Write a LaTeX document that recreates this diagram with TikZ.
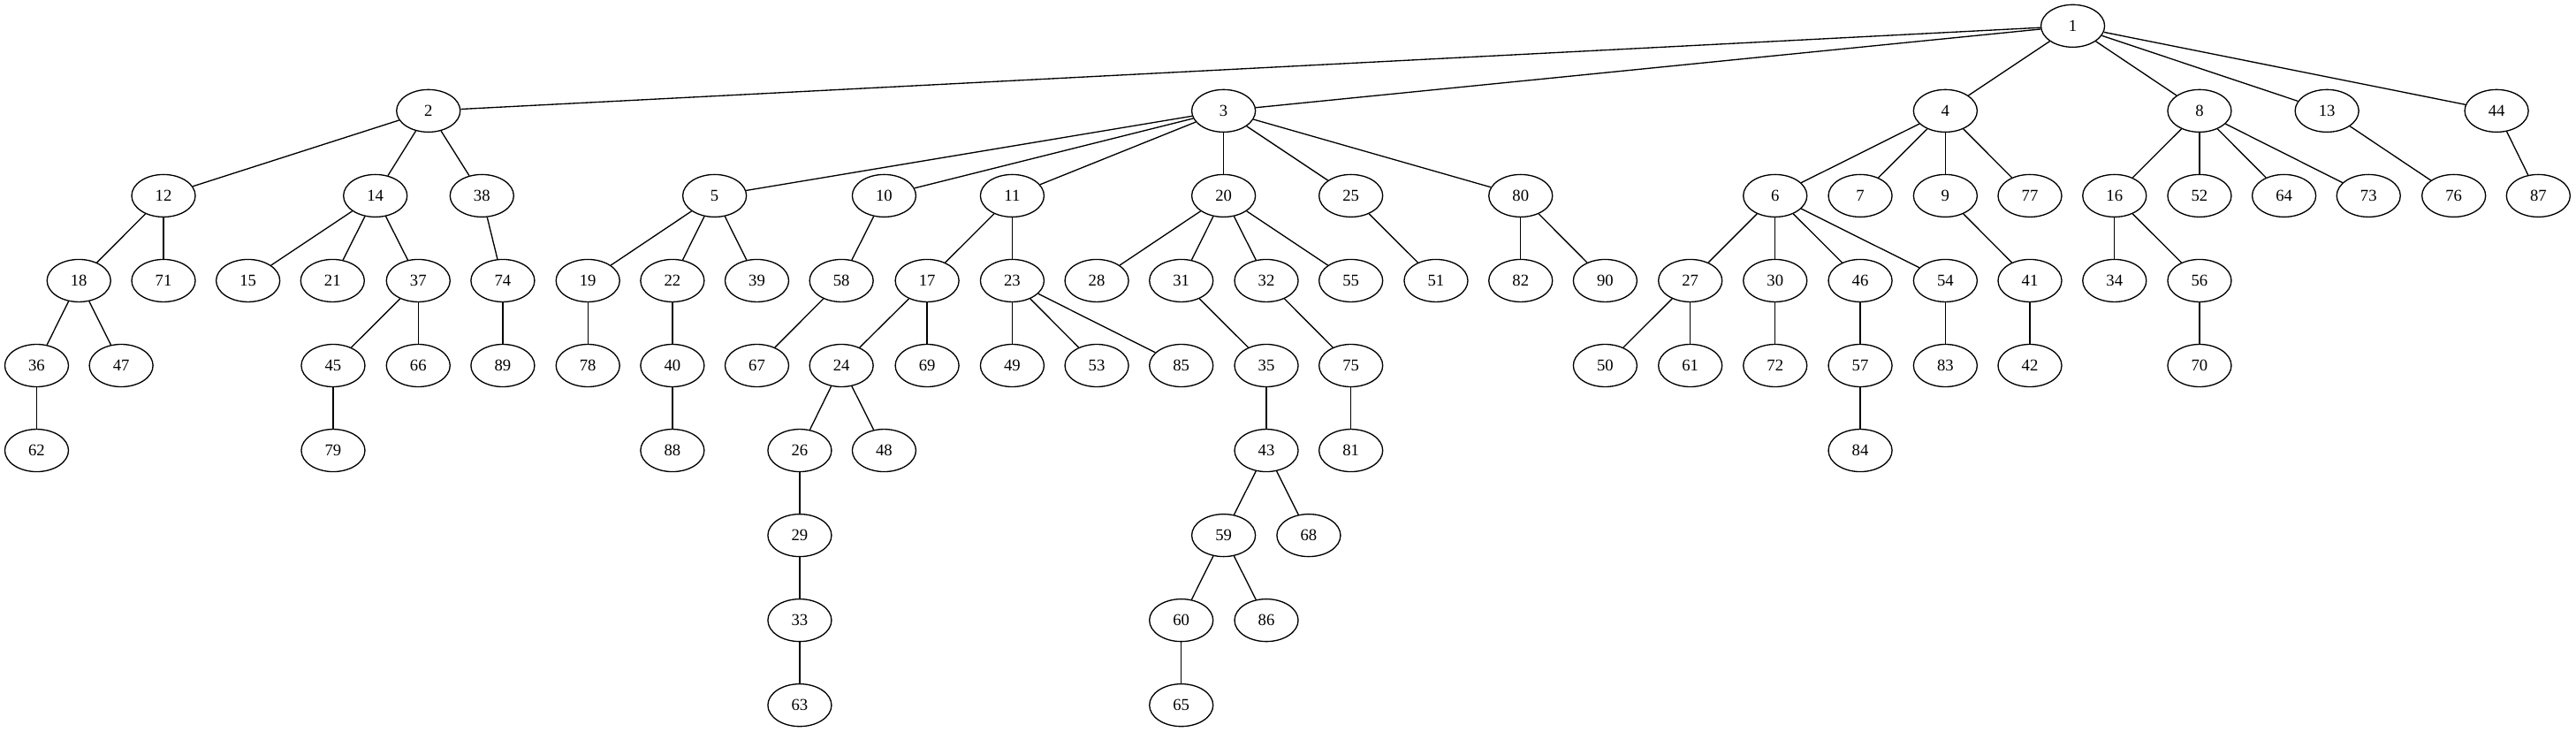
\documentclass[tikz,border=0pt]{standalone}
\usepackage{fontspec}
\setmainfont{Liberation Serif}
\usetikzlibrary{shapes.geometric}
\begin{document}
\begin{tikzpicture}[x=1pt,y=1pt,
  nd/.style={draw, ellipse, line width=1pt, minimum width=54pt, minimum height=36pt, inner sep=0pt, font=\fontsize{14}{16}\selectfont},
  edge/.style={line width=1pt}]
\useasboundingbox (0,0) rectangle (2185.3,620);
\foreach \n/\x/\l in {
  1/1758.4/0,
  2/363.4/1, 3/1038/1, 4/1650.3/1, 8/1865.9/1, 13/1974/1, 44/2117.9/1,
  12/138.7/2, 14/318.4/2, 38/408.8/2, 5/606.2/2, 10/750/2, 11/858.7/2, 20/1038/2, 25/1146/2, 80/1290/2,
  6/1505.9/2, 7/1578.1/2, 9/1650.3/2, 77/1722/2, 16/1793.8/2, 52/1865.9/2, 64/1937.6/2, 73/2009.3/2, 76/2081.6/2, 87/2153.3/2,
  18/66.9/3, 71/138.7/3, 15/210.4/3, 21/282.1/3, 37/354.8/3, 74/426.5/3, 19/498.7/3, 22/570.4/3, 39/642.1/3, 58/713.8/3,
  17/786.5/3, 23/858.7/3, 28/930.4/3, 31/1002.1/3, 32/1074.3/3, 55/1146/3, 51/1218.2/3, 82/1290/3, 90/1361.7/3,
  27/1433.9/3, 30/1505.9/3, 46/1578.1/3, 54/1650.3/3, 41/1722/3, 34/1793.8/3, 56/1865.9/3,
  36/31.1/4, 47/102.8/4, 45/282.6/4, 66/354.8/4, 89/426.5/4, 78/498.7/4, 40/570.4/4, 67/642.1/4, 24/713.8/4,
  69/786.5/4, 49/858.7/4, 53/930.4/4, 85/1002.1/4, 35/1074.3/4, 75/1146/4, 50/1361.7/4, 61/1433.9/4,
  72/1505.9/4, 57/1578.1/4, 83/1650.3/4, 42/1722/4, 70/1865.9/4,
  62/31.1/5, 79/282.6/5, 88/570.4/5, 26/678.4/5, 48/750/5, 43/1074.3/5, 81/1146/5, 84/1578.1/5,
  29/678.4/6, 59/1038/6, 68/1110.2/6,
  33/678.4/7, 60/1002.1/7, 86/1074.3/7,
  63/678.4/8, 65/1002.1/8}
  \node[nd] (n\n) at (\x,{598-72*\l}) {\n};
\foreach \a/\b in {
  1/2, 1/3, 1/4, 1/8, 1/13, 1/44,
  2/12, 2/14, 2/38,
  3/5, 3/10, 3/11, 3/20, 3/25, 3/80,
  4/6, 4/7, 4/9, 4/77,
  8/16, 8/52, 8/64, 8/73,
  13/76, 44/87,
  12/18, 12/71,
  14/15, 14/21, 14/37,
  38/74,
  5/19, 5/22, 5/39,
  10/58,
  11/17, 11/23,
  20/28, 20/31, 20/32, 20/55,
  25/51,
  80/82, 80/90,
  6/27, 6/30, 6/46, 6/54,
  9/41,
  16/34, 16/56,
  18/36, 18/47,
  37/45, 37/66,
  74/89, 19/78, 22/40, 58/67,
  17/24, 17/69,
  23/49, 23/53, 23/85,
  31/35, 32/75,
  27/50, 27/61,
  30/72, 46/57, 54/83, 41/42, 56/70,
  36/62, 45/79, 40/88,
  24/26, 24/48,
  35/43, 75/81, 57/84,
  26/29,
  43/59, 43/68,
  29/33,
  59/60, 59/86,
  33/63, 60/65}
  \draw[edge] (n\a) -- (n\b);
\end{tikzpicture}
\end{document}
